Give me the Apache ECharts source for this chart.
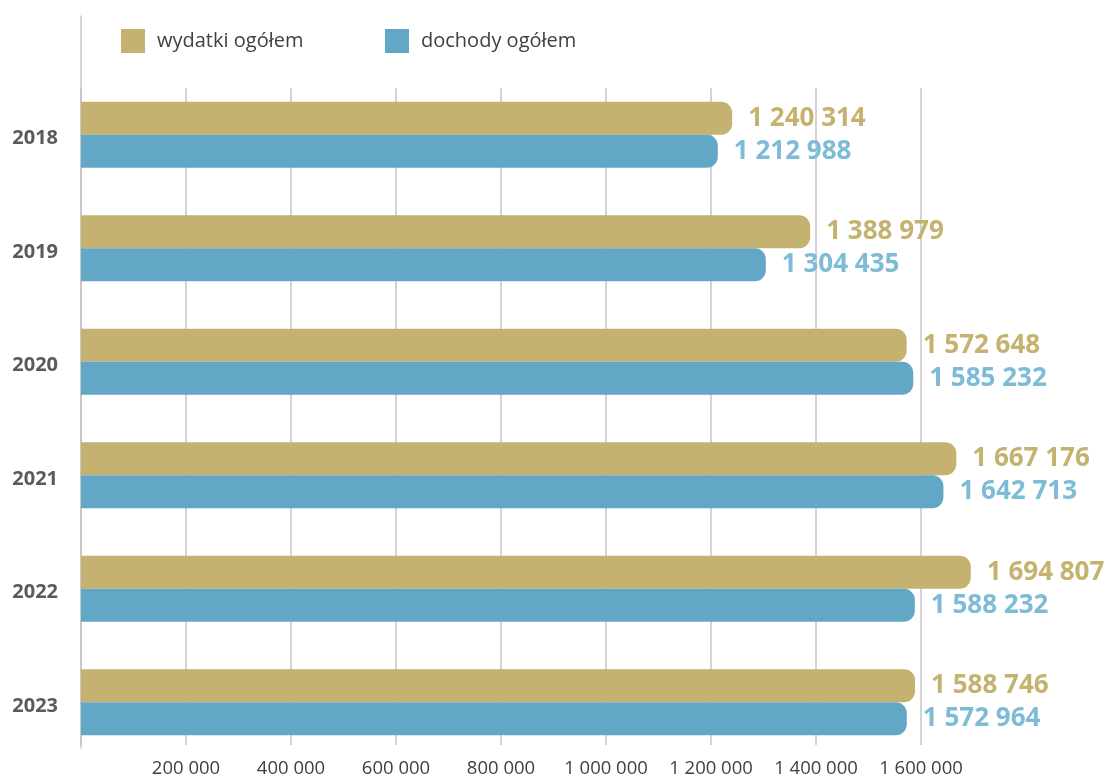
<!DOCTYPE html>
<html>
<head>
<meta charset="utf-8">
<script src="https://cdn.jsdelivr.net/npm/echarts@6/dist/echarts.min.js"></script>
<style>
  html, body { margin: 0; padding: 0; background: #fff; }
  #chart { width: 1110px; height: 778px; }
</style>
</head>
<body>
<div id="chart"></div>
<script>
const years = ['2018', '2019', '2020', '2021', '2022', '2023'];
const wydatki = [1240314, 1388979, 1572648, 1667176, 1694807, 1588746];
const dochody = [1212988, 1304435, 1585232, 1642713, 1588232, 1572964];
const tickStep = 200000;
const axisMax = 1600000;

const GOLD = '#c5b270';
const BLUE = '#62a8c6';
const FONT = '"Open Sans", "Noto Sans", sans-serif';

// px per unit, shared by the bar grid and the gridline grid
const LEFT = 81;
const PX = 105 / tickStep;

function fmt(n) {
  return String(n).replace(/\B(?=(\d{3})+(?!\d))/g, ' ');
}

const chart = echarts.init(document.getElementById('chart'));

const barLabel = (color) => ({
  show: true,
  position: 'right',
  distance: 16,
  color: color,
  fontFamily: FONT,
  fontWeight: 'bold',
  fontSize: 26,
  formatter: (p) => fmt(p.value),
});

const legendText = { color: '#404040', fontFamily: FONT, fontSize: 20, padding: [0, 0, 0, 7] };

const option = {
  animation: false,
  backgroundColor: '#fff',
  legend: [
    {
      data: ['wydatki ogółem'],
      left: 116,
      top: 24,
      itemWidth: 24,
      itemHeight: 24,
      icon: 'rect',
      textStyle: legendText,
    },
    {
      data: ['dochody ogółem'],
      left: 380,
      top: 24,
      itemWidth: 24,
      itemHeight: 24,
      icon: 'rect',
      textStyle: legendText,
    },
  ],
  grid: [
    // bars
    { left: LEFT, top: 78, height: 681, width: 1750000 * PX },
    // gridlines + x labels
    { left: LEFT, top: 88, height: 660, width: axisMax * PX },
    // tall left axis line
    { left: LEFT, top: 16, height: 732, width: 10 },
  ],
  xAxis: [
    { gridIndex: 0, type: 'value', min: 0, max: 1750000, show: false },
    {
      gridIndex: 1,
      type: 'value',
      min: 0,
      max: axisMax,
      interval: tickStep,
      axisLine: { show: false },
      axisTick: { show: false },
      splitLine: { show: true, lineStyle: { color: '#c4c4c4', width: 1.5 } },
      axisLabel: {
        showMinLabel: false,
        color: '#404040',
        fontFamily: FONT,
        fontSize: 18.5,
        margin: 14,
        formatter: (v) => fmt(v),
      },
    },
    { gridIndex: 2, type: 'value', show: false },
  ],
  yAxis: [
    {
      gridIndex: 0,
      type: 'category',
      data: years,
      inverse: true,
      axisLine: { show: false },
      axisTick: { show: false },
      axisLabel: {
        margin: 23,
        formatter: (v) => '{y|' + v + '}',
        rich: {
          y: {
            color: '#5a5a5a',
            fontFamily: FONT,
            fontWeight: 'bold',
            fontSize: 20,
            padding: [8, 0, 0, 0],
          },
        },
      },
    },
    { gridIndex: 1, type: 'category', data: years, show: false },
    {
      gridIndex: 2,
      type: 'value',
      axisLine: { show: true, lineStyle: { color: '#c4c4c4', width: 1.5 } },
      axisTick: { show: false },
      axisLabel: { show: false },
      splitLine: { show: false },
    },
  ],
  series: [
    {
      name: 'wydatki ogółem',
      type: 'bar',
      xAxisIndex: 0,
      yAxisIndex: 0,
      data: wydatki,
      barWidth: 33,
      barGap: '0%',
      itemStyle: { color: GOLD, borderRadius: [0, 11, 11, 0] },
      label: barLabel('#c5b26e'),
      z: 3,
    },
    {
      name: 'dochody ogółem',
      type: 'bar',
      xAxisIndex: 0,
      yAxisIndex: 0,
      data: dochody,
      barWidth: 33,
      barGap: '0%',
      itemStyle: { color: BLUE, borderRadius: [0, 11, 11, 0] },
      label: barLabel('#7dbbd6'),
      z: 3,
    },
  ],
};

chart.setOption(option);
</script>
</body>
</html>
